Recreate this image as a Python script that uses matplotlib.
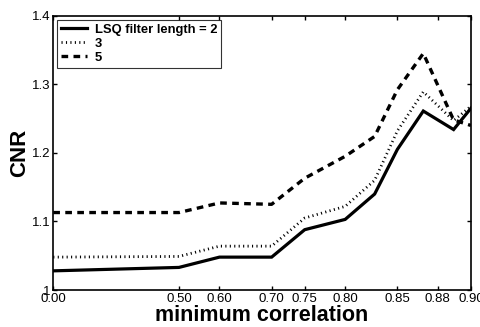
import numpy as np
import matplotlib
matplotlib.use("Agg")
import matplotlib.pyplot as plt

plt.rcParams['font.family'] = ['Liberation Sans', 'DejaVu Sans']

# data
min_corr = [0.00, 0.50, 0.60, 0.70, 0.75, 0.80, 0.83, 0.85, 0.87, 0.89, 0.90]
cnr_len2 = [1.028, 1.033, 1.048, 1.048, 1.088, 1.103, 1.140, 1.205, 1.261, 1.234, 1.265]
cnr_len3 = [1.048, 1.049, 1.064, 1.064, 1.105, 1.122, 1.160, 1.232, 1.289, 1.247, 1.268]
cnr_len5 = [1.113, 1.113, 1.127, 1.125, 1.163, 1.195, 1.224, 1.292, 1.345, 1.248, 1.240]

xticks = [0.00, 0.50, 0.60, 0.70, 0.75, 0.80, 0.85, 0.88, 0.90]
yticks = [1.0, 1.1, 1.2, 1.3, 1.4]
ytick_labels = ['1', '1.1', '1.2', '1.3', '1.4']

def fwd(x):
    return -np.log(1 - np.clip(x, None, 0.9999))

def inv(y):
    return 1 - np.exp(-y)

fig = plt.figure(figsize=(4.8, 3.27), dpi=100)
ax = fig.add_axes([0.111, 0.113, 0.870, 0.839])
ax.set_xscale('function', functions=(fwd, inv))

ax.plot(min_corr, cnr_len2, color='black', lw=2.3, ls='-',
        solid_joinstyle='miter', label='LSQ filter length = 2')
ax.plot(min_corr, cnr_len3, color='black', lw=2.0, ls=(0, (0.4, 1.2)),
        label='3')
ax.plot(min_corr, cnr_len5, color='black', lw=2.4, ls=(0, (2.0, 1.6)),
        label='5')

ax.set_xlim(0, 0.9)
ax.set_ylim(1.0, 1.4)
ax.set_xticks(xticks)
ax.set_xticklabels(['%.2f' % t for t in xticks])
ax.xaxis.set_minor_locator(matplotlib.ticker.NullLocator())
ax.set_yticks(yticks)
ax.set_yticklabels(ytick_labels)
ax.tick_params(direction='in', length=3, width=1, labelsize=9.5,
               top=True, right=True, pad=2)
for s in ax.spines.values():
    s.set_linewidth(1.2)

ax.set_xlabel('minimum correlation', fontsize=15.5, fontweight='bold', labelpad=0)
ax.set_ylabel('CNR', fontsize=16, fontweight='bold', labelpad=1)

leg = ax.legend(loc='upper left', prop={'weight': 'bold', 'size': 9.4},
                frameon=True, fancybox=False, edgecolor='black',
                handlelength=2.0, handletextpad=0.6, borderpad=0.3,
                labelspacing=0.15, borderaxespad=0.3)
leg.get_frame().set_linewidth(0.8)

fig.savefig('out.png', dpi=100)
